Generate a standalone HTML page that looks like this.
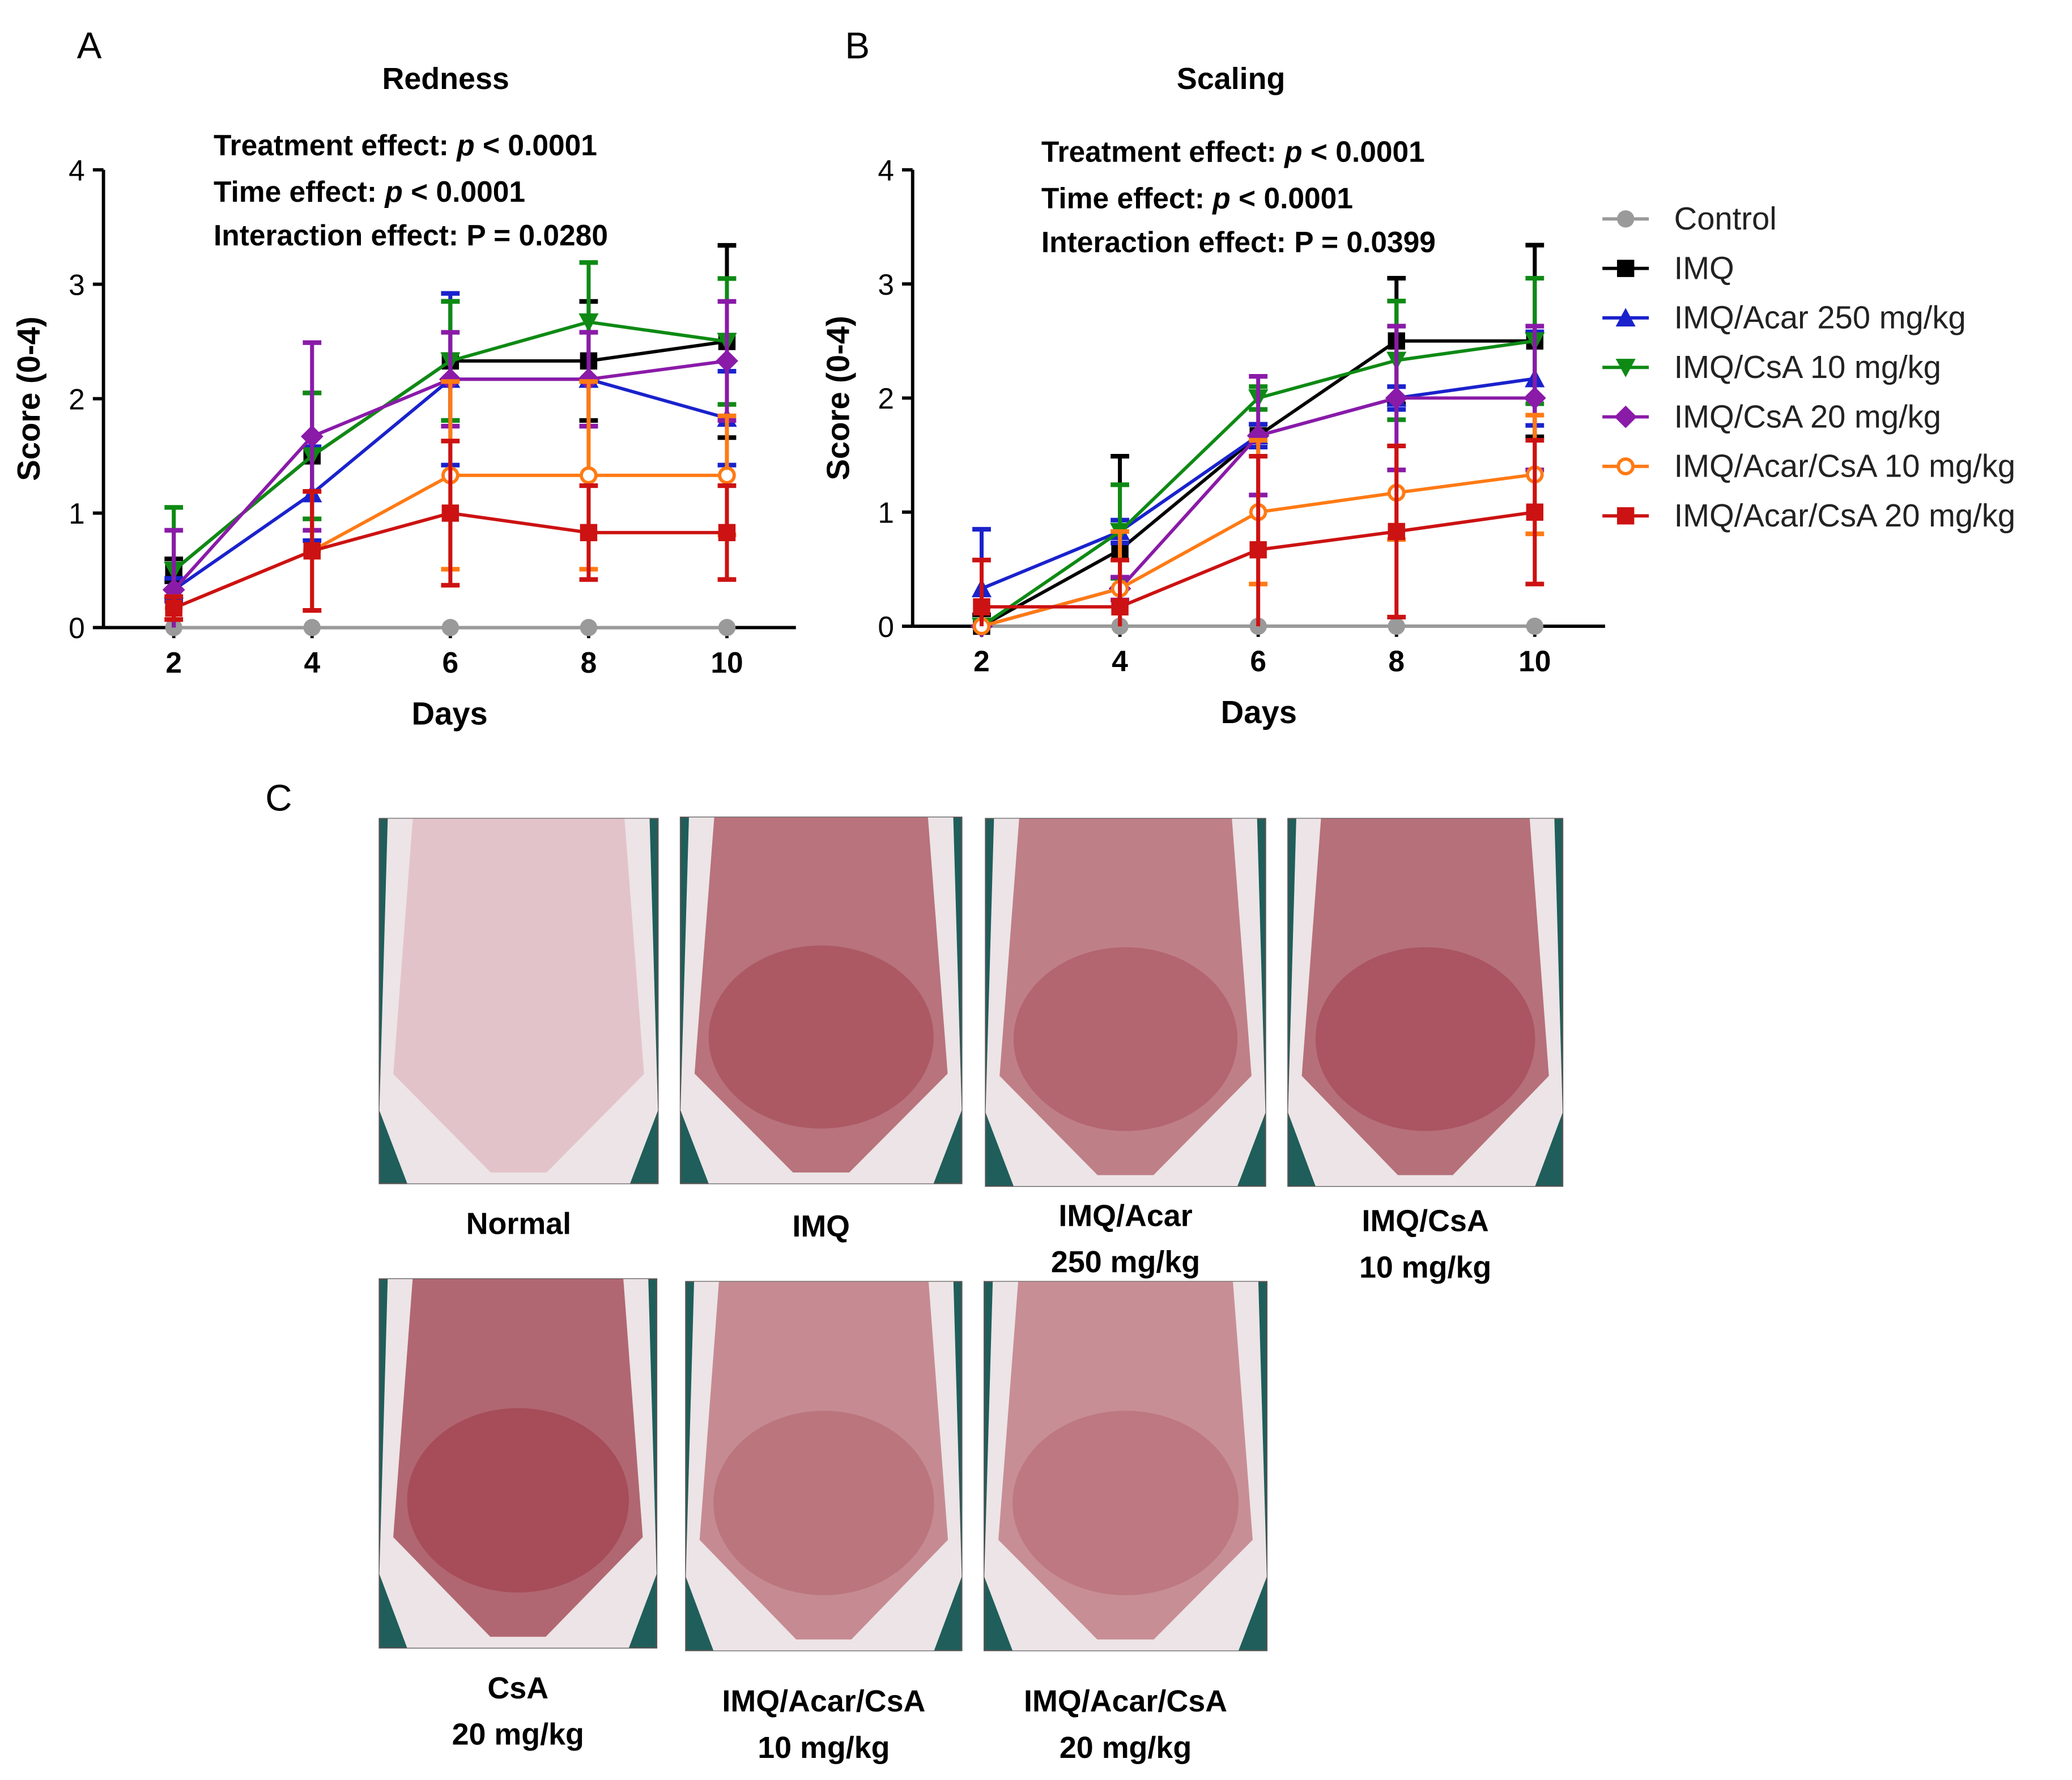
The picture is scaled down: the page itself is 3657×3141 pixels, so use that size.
<!DOCTYPE html>
<html><head><meta charset="utf-8">
<style>
html,body{margin:0;padding:0;background:#fff;}
svg{display:block;}
text{font-family:"Liberation Sans",sans-serif;}
.b{font-weight:bold;}
</style></head>
<body>
<svg id="fig" width="3657" height="3141" viewBox="0 0 1562 1341.6" xmlns="http://www.w3.org/2000/svg">
<rect width="1562" height="1342" fill="#fff"/>
<text x="58" y="44" font-size="28">A</text>
<text x="637" y="44" font-size="28">B</text>
<text x="200" y="611" font-size="28">C</text>
<text x="336" y="67" font-size="23" class="b" text-anchor="middle">Redness</text>
<text x="928" y="67" font-size="23" class="b" text-anchor="middle">Scaling</text>
<g font-size="22" class="b">
<text x="161" y="117">Treatment effect: <tspan font-style="italic">p</tspan> &lt; 0.0001</text>
<text x="161" y="152">Time effect: <tspan font-style="italic">p</tspan> &lt; 0.0001</text>
<text x="161" y="185">Interaction effect: P = 0.0280</text>
</g>
<g font-size="22" class="b">
<text x="785" y="122">Treatment effect: <tspan font-style="italic">p</tspan> &lt; 0.0001</text>
<text x="785" y="157">Time effect: <tspan font-style="italic">p</tspan> &lt; 0.0001</text>
<text x="785" y="190">Interaction effect: P = 0.0399</text>
</g>
<g id="chartA"></g>
<g id="chartB"></g>
<g id="legend"></g>
<g id="photos"></g>
</svg>
<script>
const days=[2,4,6,8,10];
const yTicks=[0,1,2,3,4];
const seriesNames=["Control","IMQ","IMQ/Acar 250 mg/kg","IMQ/CsA 10 mg/kg","IMQ/CsA 20 mg/kg","IMQ/Acar/CsA 10 mg/kg","IMQ/Acar/CsA 20 mg/kg"];
const redMean=[[0,0,0,0,0],[0.5,1.5,2.33,2.33,2.5],[0.33,1.17,2.17,2.17,1.83],[0.5,1.5,2.33,2.67,2.5],[0.33,1.67,2.17,2.17,2.33],[0.17,0.67,1.33,1.33,1.33],[0.17,0.67,1.0,0.83,0.83]];
const redErr=[[0,0,0,0,0],[0.1,0.55,0.52,0.52,0.84],[0.1,0.41,0.75,0.41,0.41],[0.55,0.55,0.52,0.52,0.55],[0.52,0.82,0.41,0.41,0.52],[0.1,0.52,0.82,0.82,0.52],[0.1,0.52,0.63,0.41,0.41]];
const scaMean=[[0,0,0,0,0],[0,0.67,1.67,2.5,2.5],[0.33,0.83,1.67,2.0,2.17],[0,0.83,2.0,2.33,2.5],[0,0.33,1.67,2.0,2.0],[0,0.33,1.0,1.17,1.33],[0.17,0.17,0.67,0.83,1.0]];
const scaErr=[[0,0,0,0,0],[0.1,0.82,0.1,0.55,0.84],[0.52,0.1,0.1,0.1,0.41],[0,0.41,0.1,0.52,0.55],[0,0.1,0.52,0.63,0.63],[0,0.5,0.63,0.41,0.52],[0.41,0.41,0.82,0.75,0.63]];
const colors=["#9a9a9a","#000000","#1a22cc","#0e8a14","#8a1aa8","#ff7a14","#cc1212"];
const shapes=["circle","square","tri","tridown","diamond","ocircle","square"];
const NS="http://www.w3.org/2000/svg";
function mk(tag,attrs,parent){const e=document.createElementNS(NS,tag);for(const k in attrs)e.setAttribute(k,attrs[k]);parent.appendChild(e);return e;}
function marker(g,s,x,y,c,r){
 if(s==="circle")return mk("circle",{cx:x,cy:y,r:r,fill:c},g);
 if(s==="ocircle")return mk("circle",{cx:x,cy:y,r:r-1,fill:"#fff",stroke:c,"stroke-width":2.5},g);
 if(s==="square")return mk("rect",{x:x-r,y:y-r,width:2*r,height:2*r,fill:c},g);
 if(s==="tri")return mk("polygon",{points:`${x},${y-r-1} ${x-r-1},${y+r} ${x+r+1},${y+r}`,fill:c},g);
 if(s==="tridown")return mk("polygon",{points:`${x},${y+r+1} ${x-r-1},${y-r} ${x+r+1},${y-r}`,fill:c},g);
 if(s==="diamond")return mk("polygon",{points:`${x},${y-r-2} ${x+r+2},${y} ${x},${y+r+2} ${x-r-2},${y}`,fill:c},g);
}
function chart(gid,ax,y0,y4,x2,x10,xend,mean,err,prefix){
 const g=document.getElementById(gid);
 const X=d=>x2+(d-2)*(x10-x2)/8, Y=v=>y0+(y4-y0)*v/4;
 mk("line",{x1:ax,y1:y4,x2:ax,y2:y0,stroke:"#000","stroke-width":2.5},g);
 mk("line",{x1:ax,y1:y0,x2:xend,y2:y0,stroke:"#000","stroke-width":2.5},g);
 yTicks.forEach(t=>{mk("line",{x1:ax-8,y1:Y(t),x2:ax,y2:Y(t),stroke:"#000","stroke-width":2.5},g);
  const tx=mk("text",{x:ax-14,y:Y(t)+8,"font-size":22,"text-anchor":"end"},g);tx.textContent=t;});
 days.forEach(d=>{mk("line",{x1:X(d),y1:y0,x2:X(d),y2:y0+8,stroke:"#000","stroke-width":2.5},g);
  const tx=mk("text",{x:X(d),y:y0+34,"font-size":22,"text-anchor":"middle",class:"b"},g);tx.textContent=d;});
 const xl=mk("text",{x:(ax+xend)/2,y:y0+73,"font-size":24,"text-anchor":"middle",class:"b"},g);xl.textContent="Days";
 
 
 const cy=(y0+y4)/2;
 const yl=mk("text",{x:ax-48,y:cy,"font-size":24,"text-anchor":"middle",class:"b",transform:`rotate(-90 ${ax-48} ${cy})`},g);yl.textContent="Score (0-4)";
 
 
 for(let s=0;s<mean.length;s++){
  const sg=mk("g",{},g);
  
  
  const c=colors[s];
  mk("polyline",{points:days.map((d,i)=>X(d)+","+Y(mean[s][i])).join(" "),fill:"none",stroke:c,"stroke-width":2.5},sg);
  days.forEach((d,i)=>{
   const m=mean[s][i],e=err[s][i];
   if(e>0){const hi=Y(m+e),lo=Y(Math.max(0,m-e));
    mk("line",{x1:X(d),y1:hi,x2:X(d),y2:lo,stroke:c,"stroke-width":3},sg);
    mk("line",{x1:X(d)-7,y1:hi,x2:X(d)+7,y2:hi,stroke:c,"stroke-width":3.5},sg);
    if(m-e>0)mk("line",{x1:X(d)-7,y1:lo,x2:X(d)+7,y2:lo,stroke:c,"stroke-width":3.5},sg);}
   const mm=marker(sg,shapes[s],X(d),Y(m),c,6.5);
   
   
  });
 }
}
chart("chartA",78,473,128,131,548,600,redMean,redErr,"redness");
chart("chartB",688,472,128,740,1157,1210,scaMean,scaErr,"scaling");
const lg=document.getElementById("legend");
seriesNames.forEach((n,i)=>{const y=165+i*37.3;
 const e=mk("g",{},lg);
 
 
 mk("line",{x1:1208,y1:y,x2:1243,y2:y,stroke:colors[i],"stroke-width":2.5},e);
 marker(e,shapes[i],1225.5,y,colors[i],6.5);
 const t=mk("text",{x:1262,y:y+8,"font-size":24,fill:"#222"},e);t.textContent=n;});
const photoBoxes=[[286,617,210,275],[513,616,212,276],[743,617,211,277],[971,617,207,277],[286,964,209,278],[517,966,208,278],[742,966,213,278]];
const photoRed=[0,0.75,0.55,0.8,0.95,0.35,0.3];
const labels=[["Normal"],["IMQ"],["IMQ/Acar","250 mg/kg"],["IMQ/CsA","10 mg/kg"],["CsA","20 mg/kg"],["IMQ/Acar/CsA","10 mg/kg"],["IMQ/Acar/CsA","20 mg/kg"]];
const labelY=[930,932,924,928,1280,1290,1290];
const pg=document.getElementById("photos");
photoBoxes.forEach((b,i)=>{
 const [x,y,w,h]=b;const g=mk("g",{},pg);
 
 
 const r=photoRed[i];
 const body=i===0?"#e3c3ca":`rgb(${Math.round(210-35*r)},${Math.round(160-60*r)},${Math.round(165-55*r)})`;
 mk("rect",{x,y,width:w,height:h,fill:"#1f5e5a",stroke:"#555","stroke-width":1},g);
 mk("path",{d:`M${x+w*0.03},${y} L${x+w*0.97},${y} L${x+w},${y+h*0.8} L${x+w*0.9},${y+h} L${x+w*0.1},${y+h} L${x},${y+h*0.8} Z`,fill:"#ece4e6"},g);
 mk("path",{d:`M${x+w*0.12},${y} L${x+w*0.88},${y} L${x+w*0.95},${y+h*0.7} L${x+w*0.6},${y+h*0.97} L${x+w*0.4},${y+h*0.97} L${x+w*0.05},${y+h*0.7} Z`,fill:body},g);
 if(i>0)mk("ellipse",{cx:x+w/2,cy:y+h*0.6,rx:w*0.4,ry:h*0.25,fill:`rgba(150,40,55,${0.12+0.3*r})`},g);
 labels[i].forEach((l,j)=>{const t=mk("text",{x:x+w/2,y:labelY[i]+j*35,"font-size":23,"text-anchor":"middle",class:"b"},g);t.textContent=l;});
});
</script>
</body></html>
